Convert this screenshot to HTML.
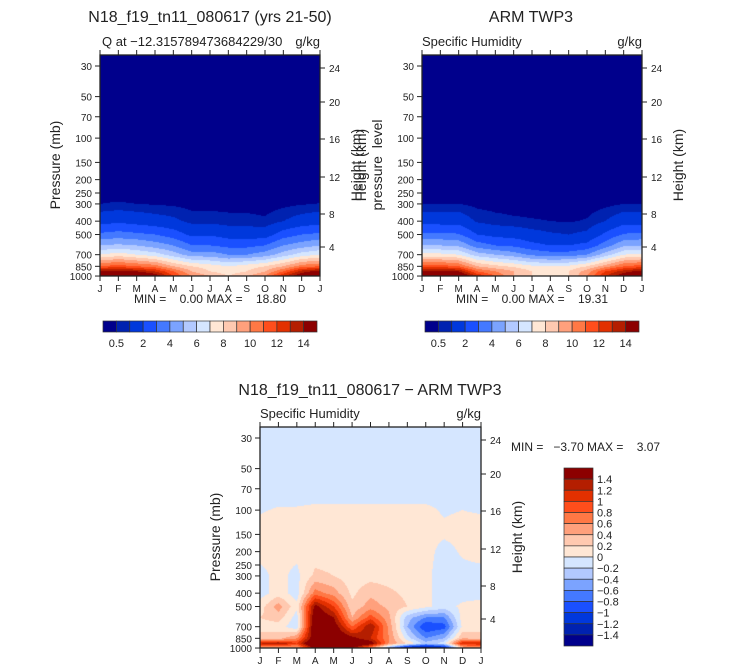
<!DOCTYPE html>
<html><head><meta charset="utf-8"><style>
body{margin:0;background:#fff;width:733px;height:672px;overflow:hidden;position:relative;font-family:"Liberation Sans",sans-serif}
canvas{position:absolute}
svg{position:absolute;left:0;top:0}
text{font-family:"Liberation Sans",sans-serif;fill:#222;white-space:pre}
</style></head><body>
<canvas id="c1" width="220" height="221" style="left:100px;top:55px"></canvas>
<canvas id="c2" width="220" height="221" style="left:422px;top:55px"></canvas>
<canvas id="c3" width="221" height="221" style="left:260px;top:427px"></canvas>
<svg id="s" width="733" height="672"></svg>
<script>
const months=["J","F","M","A","M","J","J","A","S","O","N","D","J"];
const pTicks=[30,50,70,100,150,200,250,300,400,500,700,850,1000];
const hTicks=[24,20,16,12,8,4];
const hOff=[13,47,84,122,159,192];
const qLevels=[0.5,1,2,3,4,5,6,7,8,9,10,11,12,13,14];
const qLabels=["0.5","2","4","6","8","10","12","14"];
const dLevels=[-1.4,-1.2,-1,-0.8,-0.6,-0.4,-0.2,0,0.2,0.4,0.6,0.8,1,1.2,1.4];
const palette=['#00008c','#0022b0','#0038dc','#1a50ff','#4479ff','#7ba3ff','#b2c9ff','#d5e6ff','#ffe7d5','#ffc9b0','#ffa07c','#ff7845','#ff4e1c','#e23000','#b41e00','#8c0000'];
const topP=[25,250,300,400,500,600,700,850,925,1000];
const modelQ=[
[0.05,0.05,0.05,0.05,0.05,0.05,0.05,0.05,0.05,0.05,0.05,0.05,0.05],
[0.3,0.32,0.3,0.27,0.24,0.18,0.18,0.17,0.16,0.15,0.2,0.27,0.3],
[0.5,0.55,0.5,0.45,0.4,0.3,0.3,0.3,0.28,0.25,0.35,0.45,0.52],
[1.6,1.8,1.6,1.4,1.2,0.8,0.8,0.7,0.7,0.6,1.0,1.4,1.6],
[3.2,3.4,3.2,3,2.5,1.8,1.9,1.6,1.5,1.5,2.5,3,3.2],
[5,5.2,5,4.5,4,3,3,2.7,2.7,3,4,4.5,5],
[7,7.5,7,6.5,5.5,4.5,4.5,4,4,4.5,5.5,6.5,7],
[11,11.5,11,10.5,9,8,7.5,7,7.5,8,9,10.5,11],
[14.5,14.5,14,13,11,9,8,7.5,8,9,11,13.5,14.5],
[16,16,16,15,12,10,9,8,9,10,13,15,16]];
const obsQ=[
[0.05,0.05,0.05,0.05,0.05,0.05,0.05,0.05,0.05,0.05,0.05,0.05,0.05],
[0.3,0.3,0.3,0.2,0.17,0.15,0.14,0.13,0.12,0.13,0.2,0.3,0.3],
[0.5,0.5,0.5,0.35,0.3,0.28,0.26,0.24,0.22,0.25,0.35,0.5,0.5],
[1.6,1.6,1.6,0.9,0.7,0.6,0.55,0.5,0.45,0.55,1.0,1.6,1.6],
[3.2,3.2,3.1,2.0,1.7,1.6,1.3,1.1,1.0,1.2,2.2,3.1,3.2],
[5,5,4.8,3.5,3,2.8,2.3,2.0,2.0,2.3,3.5,4.8,5],
[7.3,7.3,7,5.5,5,4.5,3.8,3.5,3.5,4,5.5,7,7.3],
[11.5,11.5,11,9,8.3,7.8,7.2,7,7.2,8,9.5,11,11.5],
[14.5,14.5,14,11,10,9,8,7.7,8,9.5,12,13.5,14.5],
[16,16,16,13,11,9,8,8,8,10,13,15,16]];
const diffP=[25,70,100,150,200,300,400,500,600,700,850,925,1000];
const diffQ=[
[-0.05,-0.05,-0.05,-0.05,-0.05,-0.05,-0.05,-0.05,-0.05,-0.05,-0.05,-0.05,-0.05],
[-0.05,-0.05,-0.05,-0.05,-0.05,-0.05,-0.05,-0.05,-0.05,-0.05,-0.05,-0.05,-0.05],
[-0.01,0.01,0.01,0.02,0.02,0.02,0.02,0.02,0.02,0.02,-0.01,0.0,-0.01],
[0.05,0.05,0.05,0.05,0.05,0.05,0.05,0.05,0.05,0.04,0.02,0.04,0.05],
[0.05,0.05,0.05,0.1,0.1,0.05,0.05,0.05,0.05,0.05,-0.05,0.02,0.05],
[-0.05,0.05,-0.05,0.25,0.2,0.08,0.12,0.1,0.05,0.05,-0.1,-0.05,-0.05],
[-0.1,0.1,-0.1,0.7,0.5,0.15,0.35,0.25,0.15,0.05,-0.1,-0.1,-0.1],
[0.1,0.5,0.05,1.5,1.0,0.25,0.5,0.35,0.2,0.05,-0.1,0.05,0.1],
[0.2,0.3,-0.1,1.7,1.4,0.4,0.9,0.45,-0.3,-0.6,-0.6,0.1,0.2],
[0.1,0.1,-0.15,1.8,1.6,0.8,1.4,0.55,-0.4,-1.0,-0.9,0.05,0.1],
[0.3,0.3,0.6,1.7,1.8,1.5,1.2,0.6,-0.1,-0.6,-0.4,0.4,0.3],
[1.2,1.4,1.0,2.0,2.0,2.0,1.6,0.6,0.2,-0.3,-0.1,1.2,1.2],
[0.4,0.4,0.4,1.6,1.6,1.4,0.6,-0.5,-1.5,-1.6,-1.4,0.3,0.4]];

const K=59.9;
function yOfP(p){return 11+K*Math.log(p/30);}
function pOfY(y){return 30*Math.exp((y-11)/K);}
function hex(c){return [parseInt(c.slice(1,3),16),parseInt(c.slice(3,5),16),parseInt(c.slice(5,7),16)];}
const pal=palette.map(hex);
function render(id,P,Q,levels){
  const cv=document.getElementById(id),ctx=cv.getContext('2d');
  const W=cv.width,H=cv.height,img=ctx.createImageData(W,H);
  for(let y=0;y<H;y++){
    const lp=Math.log(Math.min(1000,Math.max(P[0],pOfY(y+0.5))));
    let k=0;while(k<P.length-2&&lp>Math.log(P[k+1]))k++;
    let t=(lp-Math.log(P[k]))/(Math.log(P[k+1])-Math.log(P[k]));t=Math.max(0,Math.min(1,t));
    for(let x=0;x<W;x++){
      const mx=(x+0.5)/W*12,i=Math.min(11,Math.floor(mx)),u=mx-i;
      const a=Q[k][i]*(1-u)+Q[k][i+1]*u,b=Q[k+1][i]*(1-u)+Q[k+1][i+1]*u;
      const v=a*(1-t)+b*t;
      let c=0;while(c<levels.length&&v>=levels[c])c++;
      const o=(y*W+x)*4,col=pal[c];
      img.data[o]=col[0];img.data[o+1]=col[1];img.data[o+2]=col[2];img.data[o+3]=255;
    }
  }
  ctx.putImageData(img,0,0);
}
render('c1',topP,modelQ,qLevels);
render('c2',topP,obsQ,qLevels);
render('c3',diffP,diffQ,dLevels);

const S=document.getElementById('s'),NS='http://www.w3.org/2000/svg';
function el(tag,attrs,txt){const e=document.createElementNS(NS,tag);for(const k in attrs)e.setAttribute(k,attrs[k]);if(txt!==undefined)e.textContent=txt;S.appendChild(e);return e;}
function text(x,y,s,size,anchor,name,extra){const e=el('text',Object.assign({x:x,y:y,'font-size':size,'text-anchor':anchor||'start'},extra||{}),s);

return e;}
function panel(L,T,W,H,pre,leftTitle){
  const f=el('rect',{x:L,y:T,width:W,height:H,fill:'none',stroke:'#222','stroke-width':1.3});
  
  
  months.forEach((m,i)=>{const x=L+i*W/12;
    const t=el('line',{x1:x,y1:T-5,x2:x,y2:T,stroke:'#222'});
    
    
    const b=el('line',{x1:x,y1:T+H,x2:x,y2:T+H+5,stroke:'#222'});
    
    
    text(x,T+H+16,m,10,'middle',pre+'-month-label');});
  pTicks.forEach(p=>{const y=T+yOfP(p);
    const t=el('line',{x1:L-5,y1:y,x2:L,y2:y,stroke:'#222'});
    
    
    text(L-8,y+4,String(p),10,'end',pre+'-pressure-label');});
  hTicks.forEach((h,i)=>{const y=T+hOff[i];
    const t=el('line',{x1:L+W,y1:y,x2:L+W+5,y2:y,stroke:'#222'});
    
    
    text(L+W+9,y+4,String(h),10,'start',pre+'-height-label');});
  text(L-40,T+110,leftTitle,14,'middle',pre+'-y-axis-title',{transform:`rotate(-90 ${L-40} ${T+110})`,fill:'#555'});
  text(L+W+41,T+110,'Height (km)',14,'middle',pre+'-right-axis-title',{transform:`rotate(-90 ${L+W+41} ${T+110})`,fill:'#555'});
}
function hbar(L,T,W,pre){
  const bw=W/16;
  palette.forEach((c,i)=>{const r=el('rect',{x:L+i*bw,y:T,width:bw,height:11,fill:c,stroke:'#333','stroke-width':0.7});
    
    });
  qLabels.forEach((s,j)=>text(L+(1+2*j)*bw,T+26,s,11,'middle',pre+'-colorbar-label'));
}
text(210,22,'N18_f19_tn11_080617 (yrs 21-50)',16,'middle','model-title');
text(102,46,'Q at \u221212.315789473684229/30',13,'start','model-subtitle');
text(320,46,'g/kg',13,'end','model-units');
panel(100,55,220,221,'model','Pressure (mb)');
text(210,303,'MIN =    0.00 MAX =    18.80',12,'middle','model-minmax');
hbar(103,321,214,'model');
text(531,22,'ARM TWP3',16,'middle','obs-title');
text(422,46,'Specific Humidity',13,'start','obs-subtitle');
text(642,46,'g/kg',13,'end','obs-units');
text(366,165,'Height (km)',14,'middle','obs-hidden-title',{transform:'rotate(-90 366 165)',fill:'#ddd'});
panel(422,55,220,221,'obs','pressure  level');
text(532,303,'MIN =    0.00 MAX =    19.31',12,'middle','obs-minmax');
hbar(425,321,214,'obs');
text(370,395,'N18_f19_tn11_080617 \u2212 ARM TWP3',16,'middle','diff-title');
text(260,418,'Specific Humidity',13,'start','diff-subtitle');
text(481,418,'g/kg',13,'end','diff-units');
panel(260,427,221,221,'diff','Pressure (mb)');
text(511,451,'MIN =   \u22123.70 MAX =    3.07',12,'start','diff-minmax');
const bh=178/16;
for(let i=0;i<16;i++){const r=el('rect',{x:564,y:468+i*bh,width:29,height:bh,fill:palette[15-i],stroke:'#333','stroke-width':0.7});
  
  }
for(let j=0;j<15;j++){const v=dLevels[14-j];text(597,468+(j+1)*bh+4,String(v).replace('-','\u2212'),11,'start','diff-legend-label');}
</script>
</body></html>
